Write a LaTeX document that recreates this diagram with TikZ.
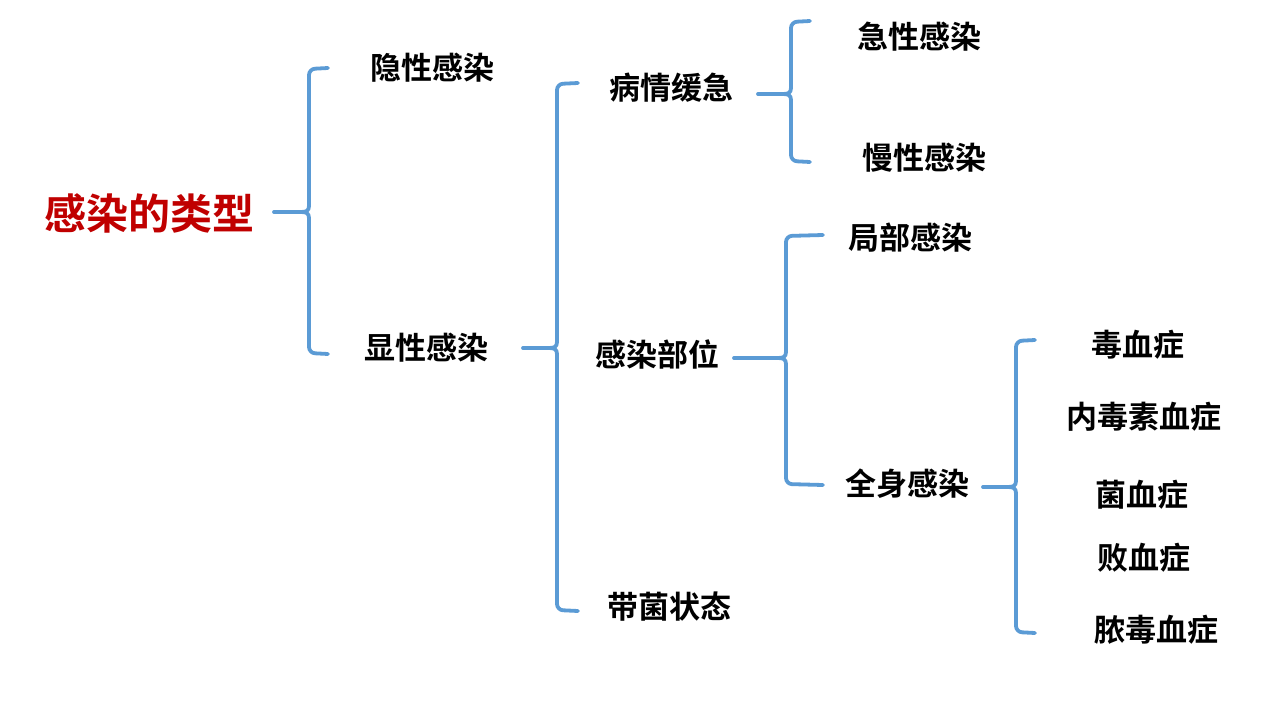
\documentclass[tikz,border=0pt]{standalone}
\usepackage{fontspec}
\newfontfamily\cjk{Noto Sans CJK SC}[UprightFont=* Bold]
\definecolor{brblue}{RGB}{91,155,213}
\definecolor{ttred}{RGB}{192,0,0}
\tikzset{
  br/.style={draw=brblue,line width=3.8pt,line cap=round,line join=round},
  lbl/.style={font=\cjk\fontsize{31}{36}\selectfont,text=black,inner sep=0pt,anchor=center},
  ttl/.style={font=\cjk\fontsize{42}{48}\selectfont,text=ttred,inner sep=0pt,anchor=center}
}
% #1 brace name prefix, #2 stick x, #3 stem x, #4 end x, #5 top y, #6 mid y, #7 bottom y
\newcommand\mybrace[7]{%
  \coordinate (#1s) at (#2,#6);
  \coordinate (#1t) at (#4,#5);
  \coordinate (#1b) at (#4,#7);
  \draw[br,rounded corners=6pt] (#1t) -- (#3,#5+1) -- (#3,#6-6);
  \draw[br] (#3,#6-6) .. controls (#3,#6-1) and (#3-3,#6) .. (#3-8,#6);
  \draw[br,rounded corners=6pt] (#1b) -- (#3,#7-1) -- (#3,#6+6);
  \draw[br] (#3,#6+6) .. controls (#3,#6+1) and (#3-3,#6) .. (#3-8,#6);
  \draw[br] (#1s) -- (#3-8,#6);
}
\begin{document}
\begin{tikzpicture}[x=1pt,y=-1pt]
\useasboundingbox[fill=white] (0,0) rectangle (1280,720);
\node[ttl] (root) at (149,213) {感染的类型};
\node[lbl] (yin) at (432,68) {隐性感染};
\node[lbl] (xian) at (426,348) {显性感染};
\node[lbl] (bq) at (671,88) {病情缓急};
\node[lbl] (gr) at (657,354) {感染部位};
\node[lbl] (dj) at (669,607) {带菌状态};
\node[lbl] (jx) at (919,37) {急性感染};
\node[lbl] (mx) at (924,158) {慢性感染};
\node[lbl] (jb) at (910,238) {局部感染};
\node[lbl] (qs) at (907,484) {全身感染};
\node[lbl] (dx) at (1138,345) {毒血症};
\node[lbl] (ndx) at (1144,417) {内毒素血症};
\node[lbl] (jx2) at (1142,495) {菌血症};
\node[lbl] (bx) at (1144,558) {败血症};
\node[lbl] (ndx2) at (1156,630) {脓毒血症};
\mybrace{a}{274}{309}{328}{68}{212}{354}
\mybrace{b}{523}{557}{578}{83}{348}{611}
\mybrace{c}{758}{791}{810}{21}{94}{162}
\mybrace{d}{734}{786}{823}{235}{358}{485}
\mybrace{e}{983}{1016}{1035}{340}{487}{633}
\end{tikzpicture}
\end{document}
